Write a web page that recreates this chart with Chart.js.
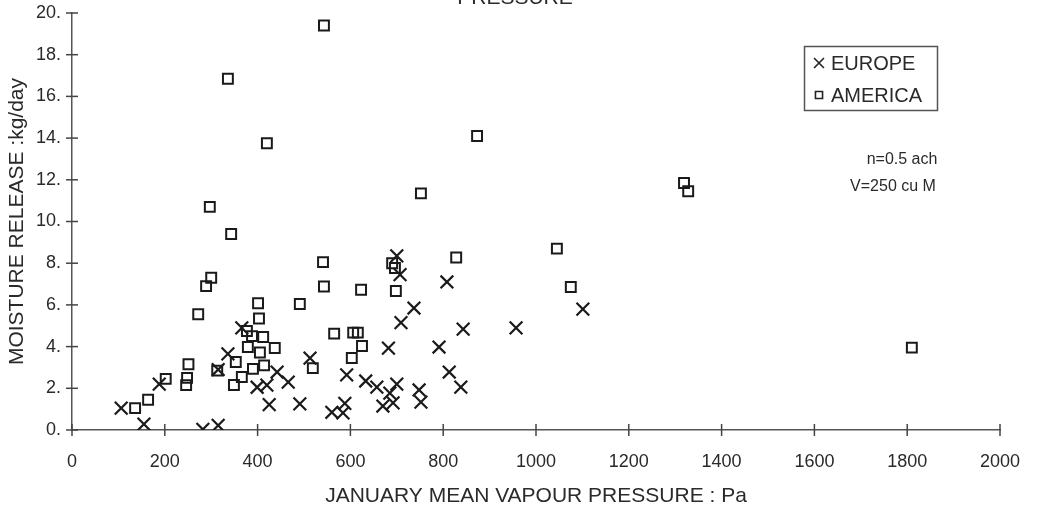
<!DOCTYPE html>
<html>
<head>
<meta charset="utf-8">
<script src="https://cdn.jsdelivr.net/npm/chart.js@4"></script>
<style>
html,body{margin:0;padding:0;background:#fff;}
canvas{display:block;}
</style>
</head>
<body>
<canvas id="c" width="1037" height="513"></canvas>
<script>
// ---- data ----
const europeX = [106,155,188,282,315,315,336,366,399,420,425,442,466,491,513,560,584,588,592,633,657,670,682,685,692,700,700,707,709,737,748,752,791,808,813,838,843,957,1101];
const europeY = [1.05,0.28,2.2,0.03,0.22,2.9,3.65,4.9,2.05,2.15,1.22,2.78,2.3,1.25,3.45,0.85,0.82,1.28,2.64,2.35,2.06,1.15,3.93,1.77,1.3,2.2,8.35,7.45,5.15,5.85,1.92,1.34,3.98,7.1,2.78,2.06,4.84,4.9,5.8];
const americaX = [136,164,202,246,248,251,272,289,300,297,313,336,343,349,353,366,377,379,388,390,401,403,405,412,414,420,437,491,519,541,543,543,565,603,606,616,623,625,690,696,698,752,828,873,1045,1075,1319,1328,1810];
const americaY = [1.05,1.45,2.45,2.15,2.5,3.15,5.55,6.9,7.3,10.7,2.85,16.85,9.4,2.16,3.26,2.54,4.75,3.98,4.5,2.93,6.08,5.35,3.72,4.46,3.1,13.75,3.93,6.04,2.97,8.05,6.88,19.4,4.62,3.45,4.67,4.67,6.73,4.03,8.0,7.77,6.67,11.35,8.27,14.1,8.7,6.86,11.85,11.45,3.95];
const xTicks = [0,200,400,600,800,1000,1200,1400,1600,1800,2000];
const yTicks = [0,2,4,6,8,10,12,14,16,18,20];
const seriesNames = ['EUROPE','AMERICA'];
const xTitle = 'JANUARY MEAN VAPOUR PRESSURE : Pa';
const yTitle = 'MOISTURE RELEASE :kg/day';
const notes = ['n=0.5 ach','V=250 cu M'];
const topTitle = 'PRESSURE';

const FONT = "'Liberation Sans', Arial, Helvetica, sans-serif";
const INK = '#2a2a2a';

const toPts = (xs, ys) => xs.map((x, i) => ({x: x, y: ys[i]}));

const crossTicks = {
  id: 'crossTicks',
  afterDraw(chart) {
    const {ctx, scales: {x, y}, chartArea} = chart;
    ctx.save();
    ctx.strokeStyle = '#444';
    ctx.lineWidth = 1.5;
    xTicks.forEach(v => {
      const px = x.getPixelForValue(v);
      ctx.beginPath(); ctx.moveTo(px, chartArea.bottom - 6); ctx.lineTo(px, chartArea.bottom + 6); ctx.stroke();
    });
    yTicks.forEach(v => {
      const py = y.getPixelForValue(v);
      ctx.beginPath(); ctx.moveTo(chartArea.left - 6, py); ctx.lineTo(chartArea.left + 6, py); ctx.stroke();
    });
    ctx.restore();
  }
};

const boxLegend = {
  id: 'boxLegend',
  afterDraw(chart) {
    const ctx = chart.ctx;
    ctx.save();
    ctx.strokeStyle = '#555';
    ctx.lineWidth = 1.5;
    ctx.strokeRect(804.5, 46.5, 133, 64);
    ctx.textBaseline = 'middle';
    ctx.textAlign = 'left';
    chart.data.datasets.forEach((ds, i) => {
      const cy = 63 + 32 * i;
      ctx.fillStyle = 'rgba(255,255,255,0)';
      ctx.strokeStyle = '#222';
      ctx.lineWidth = 1.6;
      Chart.helpers.drawPoint(ctx, {pointStyle: ds.pointStyle, radius: ds.pointStyle === 'rect' ? 5 : 7, borderWidth: 1.6}, 819, cy);
      ctx.font = '20px ' + FONT;
      ctx.fillStyle = INK;
      ctx.fillText(ds.label, 831, cy + 1);
    });
    // annotation
    ctx.fillStyle = INK;
    ctx.font = '16px ' + FONT;
    ctx.textAlign = 'center';
    ctx.fillText(notes[0], 902, 160);
    ctx.fillText(notes[1], 893, 187);
    // clipped title at top
    ctx.font = '21px ' + FONT;
    ctx.textBaseline = 'alphabetic';
    ctx.fillText(topTitle, 515, 4);
    ctx.restore();
  }
};

new Chart(document.getElementById('c'), {
  type: 'scatter',
  data: {
    datasets: [
      {label: seriesNames[0], data: toPts(europeX, europeY), pointStyle: 'crossRot', pointRadius: 9, borderColor: '#1a1a1a', backgroundColor: '#1a1a1a', pointBorderWidth: 2.2},
      {label: seriesNames[1], data: toPts(americaX, americaY), pointStyle: 'rect', pointRadius: 7, borderColor: '#1a1a1a', backgroundColor: 'rgba(255,255,255,0)', pointBorderWidth: 2}
    ]
  },
  options: {
    responsive: false,
    animation: false,
    devicePixelRatio: 1,
    layout: {padding: {left: 0, top: 13, right: 37, bottom: 3}},
    plugins: {legend: {display: false}, tooltip: {enabled: false}},
    scales: {
      x: {
        type: 'linear', min: 0, max: 2000,
        afterBuildTicks: s => { s.ticks = xTicks.map(v => ({value: v})); },
        afterFit: s => { s.height = 80; s.paddingLeft = 0; s.paddingRight = 0; },
        grid: {display: false, drawTicks: false},
        border: {display: true, color: '#555', width: 1.5},
        ticks: {font: {family: FONT, size: 18}, color: INK, padding: 21, maxRotation: 0, autoSkip: false, callback: v => String(v)},
        title: {display: true, text: xTitle, font: {family: FONT, size: 21}, color: INK, padding: {top: 0, bottom: 1}}
      },
      y: {
        type: 'linear', min: 0, max: 20,
        afterBuildTicks: s => { s.ticks = yTicks.map(v => ({value: v})); },
        afterFit: s => { s.width = 72; s.paddingTop = 0; s.paddingBottom = 0; },
        grid: {display: false, drawTicks: false},
        border: {display: true, color: '#555', width: 1.5},
        ticks: {font: {family: FONT, size: 18}, color: INK, padding: 11, callback: v => v + '.'},
        title: {display: true, text: yTitle, font: {family: FONT, size: 21}, color: INK, padding: {top: 5, bottom: 0}}
      }
    }
  },
  plugins: [crossTicks, boxLegend]
});
</script>
</body>
</html>
